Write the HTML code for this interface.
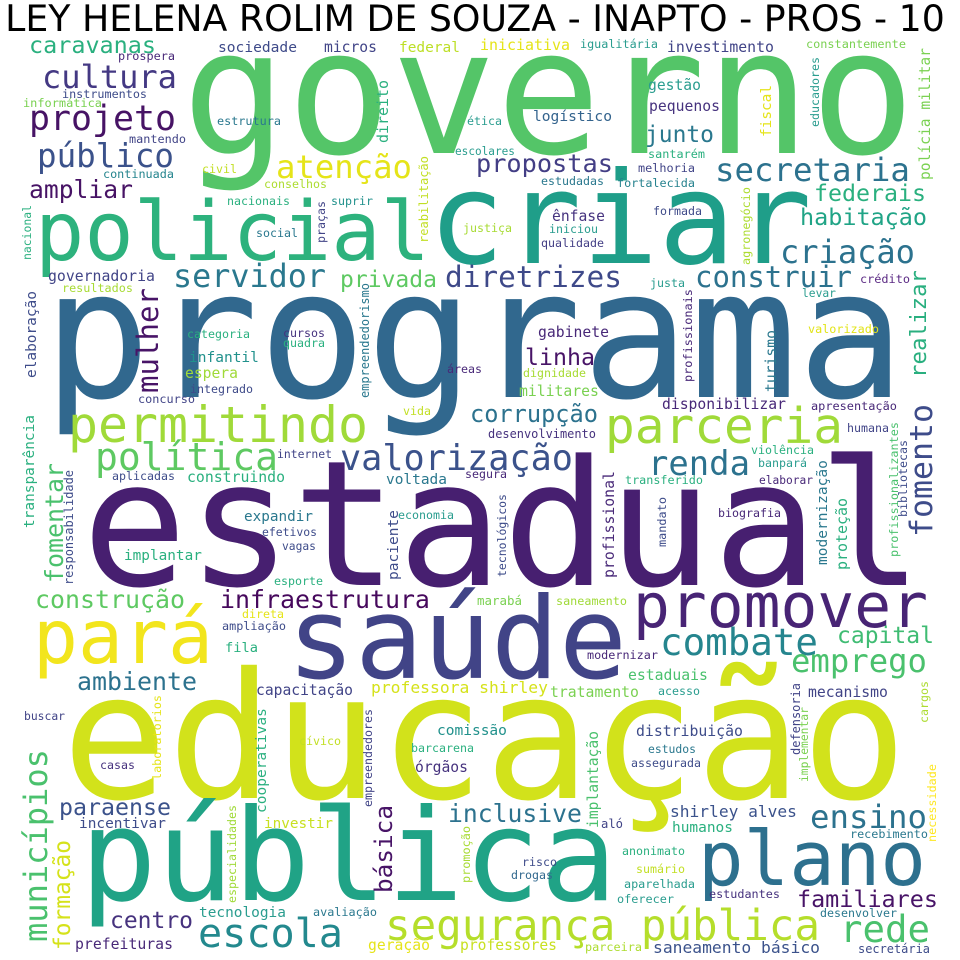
<!DOCTYPE html>
<html><head><meta charset="utf-8">
<style>
html,body{margin:0;padding:0;background:#fff;}
svg{display:block;}
text.w{font-family:"DejaVu Sans Mono","Liberation Mono",monospace;}
</style></head>
<body>
<svg id="cloud" width="960" height="960" viewBox="0 0 960 960" xmlns="http://www.w3.org/2000/svg">
<rect width="960" height="960" fill="#fff"/>
<text id="title" x="475" y="31" text-anchor="middle" font-family="DejaVu Sans, Liberation Sans, sans-serif" font-size="32" fill="#000">LEY HELENA ROLIM DE SOUZA - INAPTO - PROS - 10</text>
<g id="words"></g>
</svg>
<script>
// [word, x, baselineY, length, color, vertical]
const words = [
["programa",43,397,862,"#31688e",0],
["governo",182,153,733,"#54c568",0],
["estadual",82,585,841,"#471f70",0],
["educação",62,798,845,"#d2e21b",0],
["pública",80,900,537,"#20a386",0],
["saúde",287,678,340,"#414487",0],
["criar",428,263,384,"#1f9e89",0],
["policial",35,260,395,"#2db27d",0],
["promover",633,627,295,"#482475",0],
["plano",698,885,228,"#2d708e",0],
["pará",33,663,180,"#f2e51d",0],
["permitindo",68,442,300,"#a0da39",0],
["parceria",605,443,238,"#a0da39",0],
["segurança pública",385,940,435,"#b5de2b",0],
["escola",198,947,145,"#23898e",0],
["rede",840,942,90,"#4ac16d",0],
["ensino",810,828,117,"#2c728e",0],
["familiares",797,907,141,"#481467",0],
["inclusive",448,822,134,"#2c728e",0],
["combate",660,655,158,"#25858e",0],
["emprego",791,672,136,"#4ac16d",0],
["capital",837,643,97,"#3fbc73",0],
["infraestrutura",220,608,210,"#46085c",0],
["construção",35,608,150,"#5ec962",0],
["ambiente",77,690,120,"#2c728e",0],
["paraense",59,815,112,"#3b528b",0],
["centro",110,928,83,"#46327e",0],
["prefeituras",75,949,98,"#482878",0],
["tecnologia",199,917,87,"#2a9d8f",0],
["avaliação",313,916,64,"#2a788e",0],
["professores",460,950,97,"#c8e020",0],
["geração",368,950,62,"#e5e419",0],
["saneamento básico",653,953,167,"#3b528b",0],
["parceira",585,951,57,"#addc30",0],
["secretária",858,953,72,"#3e4c8a",0],
["desenvolver",820,917,77,"#2a788e",0],
["estudantes",709,898,71,"#46327e",0],
["oferecer",617,903,57,"#2a9d8f",0],
["aparelhada",624,888,71,"#2a9d8f",0],
["drogas",511,879,42,"#31688e",0],
["sumário",636,873,49,"#c2df23",0],
["risco",522,866,35,"#3e4c8a",0],
["anonimato",622,855,63,"#2ab07f",0],
["recebimento",850,838,78,"#2a788e",0],
["aló",601,828,22,"#414487",0],
["humanos",672,832,61,"#2ab07f",0],
["shirley alves",670,817,127,"#3b528b",0],
["incentivar",79,828,87,"#3e4c8a",0],
["investir",264,828,69,"#c8e020",0],
["órgãos",415,772,53,"#46327e",0],
["casas",100,769,35,"#46327e",0],
["barcarena",411,752,63,"#2ab07f",0],
["cívico",299,745,42,"#c2df23",0],
["comissão",437,735,70,"#21918c",0],
["buscar",24,720,41,"#414487",0],
["assegurada",631,767,70,"#3e4c8a",0],
["estudos",648,753,48,"#2a788e",0],
["distribuição",636,736,107,"#3e4c8a",0],
["mecanismo",808,697,80,"#414487",0],
["tratamento",550,697,89,"#7ad151",0],
["acesso",658,695,42,"#2a9d8f",0],
["professora shirley",371,693,177,"#d5e21a",0],
["capacitação",256,695,97,"#414487",0],
["estaduais",628,680,80,"#4ac16d",0],
["modernizar",587,659,71,"#482878",0],
["fila",225,652,33,"#2ab07f",0],
["ampliação",222,630,64,"#3e4c8a",0],
["direta",242,618,42,"#e5e419",0],
["saneamento",556,605,71,"#a0da39",0],
["marabá",477,605,45,"#7ad151",0],
["esporte",274,585,49,"#2ab07f",0],
["implantar",124,560,78,"#2ab07f",0],
["vagas",282,550,34,"#3e4c8a",0],
["efetivos",262,536,55,"#3e4c8a",0],
["expandir",244,521,69,"#2a788e",0],
["economia",398,519,56,"#2a9d8f",0],
["biografia",718,517,63,"#482878",0],
["voltada",386,484,61,"#2a788e",0],
["construindo",187,482,98,"#2ab07f",0],
["aplicadas",112,480,63,"#3e4c8a",0],
["transferido",625,484,78,"#2ab07f",0],
["elaborar",759,484,54,"#482878",0],
["segura",465,478,42,"#482878",0],
["banpará",758,467,49,"#2a9d8f",0],
["violência",751,454,63,"#2ab07f",0],
["internet",277,458,55,"#414487",0],
["política",95,470,183,"#5ec962",0],
["valorização",340,470,233,"#3b528b",0],
["renda",648,475,102,"#2c728e",0],
["humana",847,432,42,"#414487",0],
["desenvolvimento",488,438,108,"#46327e",0],
["corrupção",470,422,128,"#2c728e",0],
["disponibilizar",662,409,124,"#482878",0],
["apresentação",811,410,86,"#482878",0],
["vida",403,415,28,"#c2df23",0],
["concurso",138,403,57,"#414487",0],
["militares",519,396,80,"#7ad151",0],
["integrado",190,393,63,"#3e4a89",0],
["espera",185,378,53,"#a0da39",0],
["dignidade",523,377,63,"#a8db34",0],
["áreas",447,373,35,"#482878",0],
["linha",525,365,70,"#481467",0],
["infantil",189,362,70,"#21918c",0],
["quadra",283,347,42,"#2ab07f",0],
["cursos",283,337,42,"#46327e",0],
["categoria",187,338,63,"#2ab07f",0],
["gabinete",538,337,71,"#482878",0],
["valorizado",808,333,71,"#e2e418",0],
["levar",802,297,34,"#2a9d8f",0],
["resultados",62,292,71,"#a8db34",0],
["servidor",173,287,153,"#2a788e",0],
["privada",340,287,97,"#5ec962",0],
["diretrizes",445,287,177,"#3e4989",0],
["construir",695,287,157,"#2c728e",0],
["justa",650,287,35,"#2a9d8f",0],
["crédito",860,283,50,"#5b2a84",0],
["governadoria",48,281,107,"#414487",0],
["criação",780,263,135,"#2c728e",0],
["qualidade",541,247,63,"#433e85",0],
["social",256,237,42,"#2a788e",0],
["iniciou",549,233,49,"#2a9d8f",0],
["justiça",463,232,49,"#a8db34",0],
["habitação",800,225,127,"#20a486",0],
["ênfase",552,221,53,"#46337f",0],
["formada",653,215,49,"#3e4a89",0],
["nacionais",227,205,63,"#2ab07f",0],
["suprir",331,205,42,"#21918c",0],
["federais",814,201,112,"#2ab07f",0],
["ampliar",29,198,104,"#471365",0],
["conselhos",264,188,63,"#addc30",0],
["fortalecida",617,187,78,"#26828e",0],
["estudadas",541,185,63,"#2a788e",0],
["secretaria",715,181,195,"#2c728e",0],
["continuada",103,178,71,"#25858e",0],
["atenção",276,178,136,"#e5e419",0],
["civil",202,173,35,"#c2df23",0],
["propostas",476,172,137,"#433e85",0],
["melhoria",638,172,57,"#414487",0],
["público",37,167,137,"#3b528b",0],
["santarém",648,158,57,"#2ab07f",0],
["escolares",455,155,60,"#2a9d8f",0],
["mantendo",129,143,57,"#414487",0],
["junto",645,142,69,"#2a788e",0],
["projeto",29,130,147,"#471365",0],
["estrutura",217,125,64,"#2a788e",0],
["ética",467,125,35,"#2a9d8f",0],
["logístico",533,121,79,"#33638d",0],
["pequenos",649,111,71,"#46327e",0],
["informática",23,107,79,"#7ad151",0],
["instrumentos",62,98,85,"#3e4c8a",0],
["gestão",648,90,53,"#2a9d8f",0],
["cultura",42,88,135,"#443983",0],
["prospera",118,60,57,"#482878",0],
["caravanas",29,53,127,"#2ab07f",0],
["sociedade",218,52,79,"#3e4a89",0],
["micros",324,52,53,"#414487",0],
["federal",399,52,61,"#bddf26",0],
["iniciativa",480,50,90,"#e5e419",0],
["igualitária",580,48,78,"#2a9d8f",0],
["investimento",667,52,107,"#414487",0],
["constantemente",806,48,100,"#7ad151",0],
["direito",388,143,63,"#2ab07f",1],
["reabilitação",428,243,87,"#c2df23",1],
["praças",325,243,42,"#414487",1],
["nacional",31,260,55,"#2ab07f",1],
["mulher",158,393,105,"#481467",1],
["elaboração",36,378,87,"#3e4c8a",1],
["empreendedorismo",369,398,115,"#2a788e",1],
["fiscal",771,137,52,"#e5e419",1],
["educadores",819,127,70,"#2a9d8f",1],
["polícia militar",930,180,132,"#7ad151",1],
["agronegócio",750,265,78,"#addc30",1],
["realizar",926,378,108,"#29af7f",1],
["profissionais",692,382,93,"#482878",1],
["turismo",776,392,62,"#2a788e",1],
["transparência",34,528,113,"#2ab07f",1],
["fomentar",63,583,120,"#4ac16d",1],
["responsabilidade",73,585,115,"#3e4c8a",1],
["paciente",398,580,70,"#3e4c8a",1],
["tecnológicos",506,577,83,"#3e4c8a",1],
["profissional",614,578,107,"#482878",1],
["mandato",666,547,50,"#3e4c8a",1],
["modernização",827,565,105,"#2a788e",1],
["proteção",847,570,72,"#2ab07f",1],
["fomento",932,537,133,"#3e4c8a",1],
["profissionalizantes",898,557,135,"#4ac16d",1],
["bibliotecas",907,517,77,"#3e4c8a",1],
["municípios",47,942,193,"#4ac16d",1],
["formação",70,950,110,"#d5e21a",1],
["laboratórios",161,780,85,"#e5e419",1],
["cooperativas",266,813,105,"#2ab07f",1],
["especialidades",236,903,98,"#a0da39",1],
["empreendedores",372,807,98,"#414487",1],
["básica",392,893,88,"#481467",1],
["promoção",470,883,57,"#a8db34",1],
["implantação",598,828,97,"#4ac16d",1],
["defensoria",800,755,72,"#414487",1],
["implementar",808,782,75,"#7ad151",1],
["cargos",928,723,42,"#addc30",1],
["necessidade",936,842,78,"#fde725",1]
];

const NS = "http://www.w3.org/2000/svg";
const g = document.getElementById('words');
words.forEach(function (d) {
  const t = document.createElementNS(NS, 'text');
  
  
  t.setAttribute('class', 'w');
  t.setAttribute('x', d[1]);
  t.setAttribute('y', d[2]);
  t.setAttribute('fill', d[4]);
  t.setAttribute('font-size', 100);
  t.textContent = d[0];
  if (d[5]) t.setAttribute('transform', 'rotate(-90 ' + d[1] + ' ' + d[2] + ')');
  g.appendChild(t);
  const len = t.getComputedTextLength() || (d[0].length * 60.2);
  t.setAttribute('font-size', (100 * d[3] / len).toFixed(2));
});
// fit title
const title = document.getElementById('title');
const tl = title.getComputedTextLength();
if (tl) title.setAttribute('font-size', (32 * 940 / tl).toFixed(2));
</script>
</body></html>
